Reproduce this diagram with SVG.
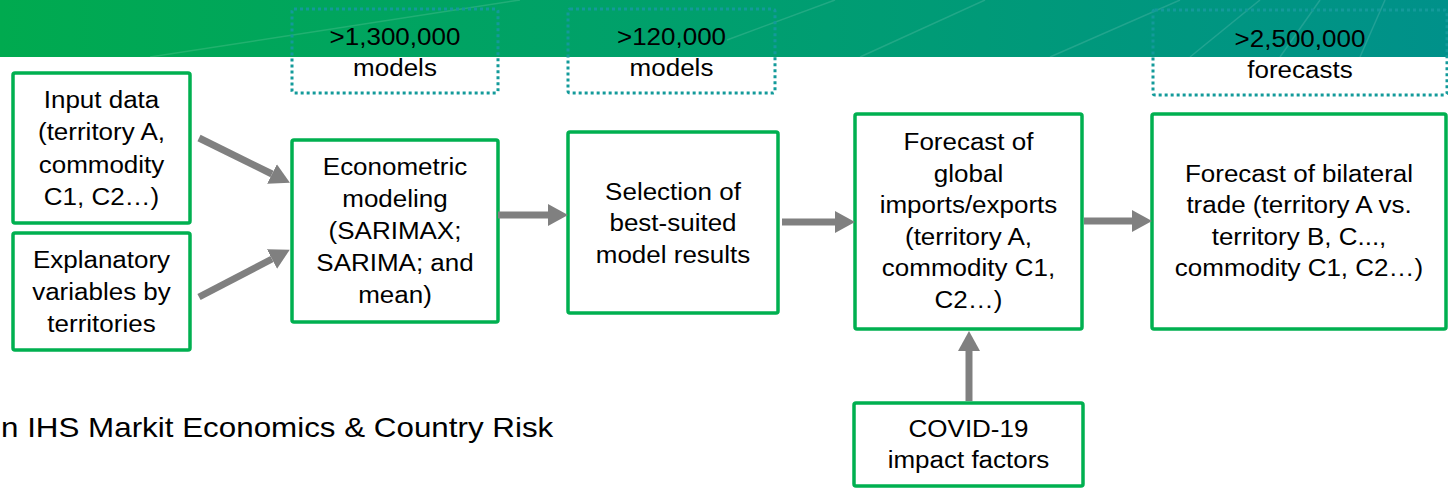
<svg xmlns="http://www.w3.org/2000/svg" width="1448" height="489" viewBox="0 0 1448 489">
<defs>
<linearGradient id="band" x1="0" y1="0" x2="1" y2="0">
<stop offset="0" stop-color="#00aa4f"/>
<stop offset="0.5" stop-color="#009f6e"/>
<stop offset="1" stop-color="#00918a"/>
</linearGradient>
<marker id="ah" markerUnits="userSpaceOnUse" markerWidth="20" markerHeight="22" refX="0" refY="11" orient="auto" viewBox="0 0 20 22">
<path d="M0,0 L20,11 L0,22 Z" fill="#808080"/>
</marker>
<style>
.box{fill:#fff;stroke:#00b050;stroke-width:3.5}
.dot{fill:none;stroke:#139a9a;stroke-width:3;stroke-dasharray:3 3}
.t{font-family:"Liberation Sans",Arial,sans-serif;font-size:23px;fill:#000;text-anchor:middle}
.conn line{stroke:#808080;stroke-width:7;marker-end:url(#ah)}
</style>
</defs>
<rect x="0" y="0" width="1448" height="57" fill="url(#band)"/>
<g stroke="#ffffff" stroke-opacity="0.13" stroke-width="1.5" fill="none">
<line x1="150" y1="57" x2="520" y2="0"/>
<line x1="727" y1="40" x2="835" y2="0"/>
<line x1="860" y1="57" x2="985" y2="0"/>
<line x1="1050" y1="57" x2="1180" y2="0"/>
<line x1="1190" y1="57" x2="1260" y2="0"/>
<line x1="1280" y1="57" x2="1320" y2="0"/>
<line x1="1360" y1="57" x2="1385" y2="0"/>
</g>

<g id="count-models-1">
<rect class="dot" x="292" y="9" width="206" height="84" rx="2"/>
<text class="t" transform="translate(395 0) scale(1.13 1)"><tspan x="0" y="45">&gt;1,300,000</tspan><tspan x="0" y="76">models</tspan></text>
</g>
<g id="count-models-2">
<rect class="dot" x="568" y="9" width="207" height="84" rx="2"/>
<text class="t" transform="translate(671.5 0) scale(1.13 1)"><tspan x="0" y="45">&gt;120,000</tspan><tspan x="0" y="76">models</tspan></text>
</g>
<g id="count-forecasts">
<rect class="dot" x="1153" y="10" width="294" height="85" rx="2"/>
<text class="t" transform="translate(1300 0) scale(1.13 1)"><tspan x="0" y="47">&gt;2,500,000</tspan><tspan x="0" y="78">forecasts</tspan></text>
</g>

<g id="input-data">
<rect class="box" x="13" y="73" width="177" height="150" rx="2"/>
<text class="t" transform="translate(101.5 0) scale(1.13 1)"><tspan x="0" y="108">Input data</tspan><tspan x="0" y="140.5">(territory A,</tspan><tspan x="0" y="173">commodity</tspan><tspan x="0" y="205.5">C1, C2…)</tspan></text>
</g>
<g id="explanatory">
<rect class="box" x="13" y="233" width="177" height="117" rx="2"/>
<text class="t" transform="translate(101.5 0) scale(1.13 1)"><tspan x="0" y="268">Explanatory</tspan><tspan x="0" y="300">variables by</tspan><tspan x="0" y="332">territories</tspan></text>
</g>
<g id="econometric">
<rect class="box" x="292" y="140" width="206" height="182" rx="2"/>
<text class="t" transform="translate(395 0) scale(1.13 1)"><tspan x="0" y="175">Econometric</tspan><tspan x="0" y="207">modeling</tspan><tspan x="0" y="239">(SARIMAX;</tspan><tspan x="0" y="271">SARIMA; and</tspan><tspan x="0" y="303">mean)</tspan></text>
</g>
<g id="selection">
<rect class="box" x="568" y="132" width="210" height="181" rx="2"/>
<text class="t" transform="translate(673 0) scale(1.13 1)"><tspan x="0" y="200">Selection of</tspan><tspan x="0" y="231.5">best-suited</tspan><tspan x="0" y="263">model results</tspan></text>
</g>
<g id="forecast-global">
<rect class="box" x="855" y="114" width="227" height="215" rx="2"/>
<text class="t" transform="translate(968.5 0) scale(1.13 1)"><tspan x="0" y="150">Forecast of</tspan><tspan x="0" y="181.6">global</tspan><tspan x="0" y="213.2">imports/exports</tspan><tspan x="0" y="244.8">(territory A,</tspan><tspan x="0" y="276.4">commodity C1,</tspan><tspan x="0" y="308">C2…)</tspan></text>
</g>
<g id="forecast-bilateral">
<rect class="box" x="1152" y="114" width="294" height="215" rx="2"/>
<text class="t" transform="translate(1299 0) scale(1.13 1)"><tspan x="0" y="182">Forecast of bilateral</tspan><tspan x="0" y="213.5">trade (territory A vs.</tspan><tspan x="0" y="245">territory B, C...,</tspan><tspan x="0" y="276.5">commodity C1, C2…)</tspan></text>
</g>
<g id="covid">
<rect class="box" x="854" y="403" width="229" height="83" rx="2"/>
<text class="t" transform="translate(968.5 0) scale(1.13 1)"><tspan x="0" y="437">COVID-19</tspan><tspan x="0" y="468">impact factors</tspan></text>
</g>

<g id="connectors" class="conn">
<line x1="199" y1="138" x2="272" y2="174"/>
<line x1="199" y1="297" x2="272" y2="259"/>
<line x1="498" y1="215" x2="548" y2="215"/>
<line x1="782" y1="222" x2="835" y2="222"/>
<line x1="1084" y1="221" x2="1132" y2="221"/>
<line x1="969" y1="401" x2="969" y2="351"/>
</g>

<text style="font-family:'Liberation Sans',Arial,sans-serif;font-size:28px;fill:#000;text-anchor:start" transform="translate(1 437) scale(1.12 1)" x="0" y="0">n IHS Markit Economics &amp; Country Risk</text>
</svg>
